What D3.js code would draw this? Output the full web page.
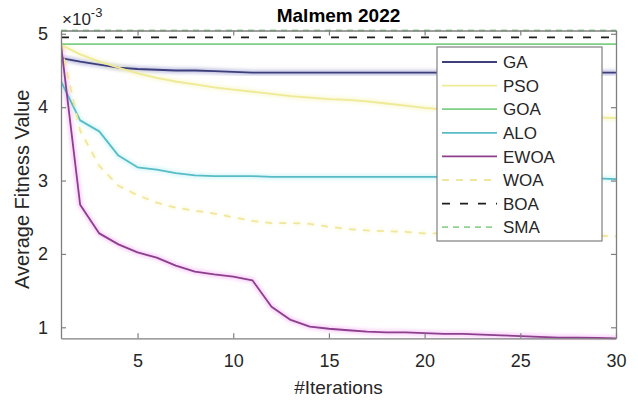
<!DOCTYPE html>
<html>
<head>
<meta charset="utf-8">
<script src="https://cdn.jsdelivr.net/npm/d3@7"></script>
<style>
  html, body { margin: 0; padding: 0; background: #fff; }
  svg { display: block; font-family: "Liberation Sans", Arial, sans-serif; }
</style>
</head>
<body>
<svg id="chart" width="638" height="403"></svg>
<script>
// Iteration index along the x axis
const iterations = [1,2,3,4,5,6,7,8,9,10,11,12,13,14,15,16,17,18,19,20,21,22,23,24,25,26,27,28,29,30];

// Average fitness per iteration (units of 1e-3)
const GA   = [4.67,4.62,4.58,4.54,4.52,4.51,4.50,4.50,4.49,4.48,4.47,4.47,4.47,4.47,4.47,4.47,4.47,4.47,4.47,4.47,4.47,4.47,4.47,4.47,4.47,4.47,4.47,4.47,4.47,4.47];
const PSO  = [4.85,4.72,4.62,4.54,4.46,4.40,4.35,4.31,4.27,4.24,4.21,4.18,4.15,4.13,4.11,4.10,4.08,4.05,4.02,3.99,3.97,3.95,3.93,3.92,3.90,3.89,3.88,3.87,3.86,3.85];
const GOA  = [4.86,4.86,4.86,4.86,4.86,4.86,4.86,4.86,4.86,4.86,4.86,4.86,4.86,4.86,4.86,4.86,4.86,4.86,4.86,4.86,4.86,4.86,4.86,4.86,4.86,4.86,4.86,4.86,4.86,4.86];
const ALO  = [4.35,3.82,3.67,3.34,3.18,3.15,3.10,3.07,3.06,3.06,3.06,3.05,3.05,3.05,3.05,3.05,3.05,3.05,3.05,3.05,3.05,3.05,3.05,3.05,3.05,3.05,3.05,3.04,3.03,3.02];
const EWOA = [4.85,2.67,2.28,2.13,2.02,1.95,1.84,1.76,1.72,1.69,1.64,1.28,1.10,1.01,0.98,0.96,0.94,0.93,0.93,0.92,0.91,0.91,0.90,0.89,0.88,0.87,0.86,0.86,0.855,0.85];
const WOA  = [4.85,3.68,3.20,2.93,2.80,2.70,2.63,2.59,2.55,2.50,2.45,2.42,2.42,2.41,2.37,2.34,2.32,2.31,2.30,2.28,2.28,2.27,2.27,2.26,2.26,2.26,2.25,2.25,2.25,2.24];
const BOA  = [4.95,4.95,4.95,4.95,4.95,4.95,4.95,4.95,4.95,4.95,4.95,4.95,4.95,4.95,4.95,4.95,4.95,4.95,4.95,4.95,4.95,4.95,4.95,4.95,4.95,4.95,4.95,4.95,4.95,4.95];
const SMA  = [5.045,5.045,5.045,5.045,5.045,5.045,5.045,5.045,5.045,5.045,5.045,5.045,5.045,5.045,5.045,5.045,5.045,5.045,5.045,5.045,5.045,5.045,5.045,5.045,5.045,5.045,5.045,5.045,5.045,5.045];

const seriesNames = ["GA","PSO","GOA","ALO","EWOA","WOA","BOA","SMA"];
const xTicks = [5,10,15,20,25,30];
const yTicks = [1,2,3,4,5];

const titleText = "Malmem 2022";
const xLabel = "#Iterations";
const yLabel = "Average Fitness Value";

// Line styling per series
const styles = {
  GA:   { color: "#3d3f7c", dash: null,   width: 1.8, halo: "#8c8fc8" },
  PSO:  { color: "#efea96", dash: null,   width: 1.8, halo: "#f7f3b8" },
  GOA:  { color: "#7ccf84", dash: null,   width: 1.8, halo: "#bfeec3" },
  ALO:  { color: "#58bcc6", dash: null,   width: 1.8, halo: "#b8f0f4" },
  EWOA: { color: "#8c3f8c", dash: null,   width: 1.8, halo: "#f3a6f3" },
  WOA:  { color: "#f1e79a", dash: "7,7",  width: 1.8, halo: "#fbf6cc" },
  BOA:  { color: "#1e1e1e", dash: "8,10", width: 1.8, halo: "#9a9a9a" },
  SMA:  { color: "#8fd38f", dash: "6,5",  width: 1.8, halo: "#c8f0c8" }
};

const data = { GA, PSO, GOA, ALO, EWOA, WOA, BOA, SMA };

const svg = d3.select("#chart");
const plot = { left: 61, right: 616, top: 30.5, bottom: 338.3 };

// Tight axis limits around the data
const allVals = seriesNames.flatMap(n => data[n]);
const x = d3.scaleLinear().domain(d3.extent(iterations)).range([plot.left, plot.right]);
const y = d3.scaleLinear().domain(d3.extent(allVals)).range([plot.bottom, plot.top]);

const defs = svg.append("defs");
defs.append("filter").attr("id", "soft")
  .attr("x", "-5%").attr("y", "-20%").attr("width", "110%").attr("height", "140%")
  .append("feGaussianBlur").attr("stdDeviation", 1.6);
defs.append("clipPath").attr("id", "plotClip")
  .append("rect")
  .attr("x", plot.left).attr("y", plot.top - 2)
  .attr("width", plot.right - plot.left).attr("height", plot.bottom - plot.top + 4);

const axisColor = "#7f7f7f";
const textColor = "#262626";

// Series lines (with a soft coloured halo underneath)
const line = d3.line().x((d, i) => x(iterations[i])).y(d => y(d));
const lines = svg.append("g").attr("clip-path", "url(#plotClip)");
const drawOrder = ["SMA","BOA","GOA","GA","PSO","ALO","WOA","EWOA"];
drawOrder.forEach(name => {
  const s = styles[name];
  lines.append("path")
    .attr("d", line(data[name]))
    .attr("fill", "none")
    .attr("stroke", s.halo)
    .attr("stroke-width", 6)
    .attr("stroke-opacity", 0.45)
    .attr("stroke-dasharray", s.dash)
    .attr("filter", "url(#soft)");
});
drawOrder.forEach(name => {
  const s = styles[name];
  lines.append("path")
    .attr("d", line(data[name]))
    .attr("fill", "none")
    .attr("stroke", s.color)
    .attr("stroke-width", s.width)
    .attr("stroke-dasharray", s.dash)
    .attr("stroke-linejoin", "round");
});

// Axes: ticks point inward, box drawn on all four sides
const tickLen = 5;
const fmt = d3.format("d");
const gx = svg.append("g")
  .attr("transform", `translate(0,${plot.bottom})`)
  .call(d3.axisBottom(x).tickValues(xTicks).tickFormat(fmt).tickSizeInner(-tickLen).tickSizeOuter(0).tickPadding(12));
const gxTop = svg.append("g")
  .attr("transform", `translate(0,${plot.top})`)
  .call(d3.axisTop(x).tickValues(xTicks).tickSizeInner(-tickLen).tickSizeOuter(0).tickFormat(""));
const gy = svg.append("g")
  .attr("transform", `translate(${plot.left},0)`)
  .call(d3.axisLeft(y).tickValues(yTicks).tickFormat(fmt).tickSizeInner(-tickLen).tickSizeOuter(0).tickPadding(13));
const gyRight = svg.append("g")
  .attr("transform", `translate(${plot.right},0)`)
  .call(d3.axisRight(y).tickValues(yTicks).tickSizeInner(-tickLen).tickSizeOuter(0).tickFormat(""));

[gx, gxTop, gy, gyRight].forEach(g => {
  g.select(".domain").attr("stroke", axisColor).attr("stroke-width", 1.3);
  g.selectAll(".tick line").attr("stroke", axisColor).attr("stroke-width", 1.2);
  g.selectAll(".tick text")
    .attr("fill", textColor)
    .attr("font-size", 18)
    .attr("font-family", "'Liberation Sans', Arial, sans-serif");
});
gx.selectAll(".tick text").attr("dy", "0.95em");

// Exponent marker above the y axis
const expo = svg.append("text")
  .attr("x", plot.left + 1).attr("y", 25)
  .attr("fill", textColor)
  .attr("font-size", 17);
expo.append("tspan").text("\u00d710");
expo.append("tspan").attr("dy", -8).attr("font-size", 13).text("-3");

// Title and axis labels
svg.append("text")
  .attr("x", (plot.left + plot.right) / 2).attr("y", 22)
  .attr("text-anchor", "middle")
  .attr("font-weight", "bold")
  .attr("font-size", 19)
  .attr("fill", "#000")
  .text(titleText);

svg.append("text")
  .attr("x", (plot.left + plot.right) / 2).attr("y", 394)
  .attr("text-anchor", "middle")
  .attr("font-size", 19)
  .attr("fill", textColor)
  .text(xLabel);

svg.append("text")
  .attr("transform", `translate(29,${(plot.top + plot.bottom) / 2 + 5}) rotate(-90)`)
  .attr("text-anchor", "middle")
  .attr("font-size", 20)
  .attr("fill", textColor)
  .text(yLabel);

// Legend
const legend = { x: 437, y: 47, w: 165, h: 194, rowH: 23.6, first: 15 };
const lg = svg.append("g");
lg.append("rect")
  .attr("x", legend.x).attr("y", legend.y)
  .attr("width", legend.w).attr("height", legend.h)
  .attr("fill", "#fff")
  .attr("stroke", axisColor)
  .attr("stroke-width", 1.2);
seriesNames.forEach((name, i) => {
  const s = styles[name];
  const cy = legend.y + legend.first + i * legend.rowH;
  lg.append("line")
    .attr("x1", legend.x + 5).attr("x2", legend.x + 60)
    .attr("y1", cy).attr("y2", cy)
    .attr("stroke", s.halo).attr("stroke-width", 5).attr("stroke-opacity", 0.4)
    .attr("stroke-dasharray", s.dash)
    .attr("filter", "url(#soft)");
  lg.append("line")
    .attr("x1", legend.x + 5).attr("x2", legend.x + 60)
    .attr("y1", cy).attr("y2", cy)
    .attr("stroke", s.color).attr("stroke-width", s.width)
    .attr("stroke-dasharray", s.dash);
  lg.append("text")
    .attr("x", legend.x + 66).attr("y", cy)
    .attr("dy", "0.36em")
    .attr("font-size", 17)
    .attr("fill", textColor)
    .text(name);
});
</script>
</body>
</html>
